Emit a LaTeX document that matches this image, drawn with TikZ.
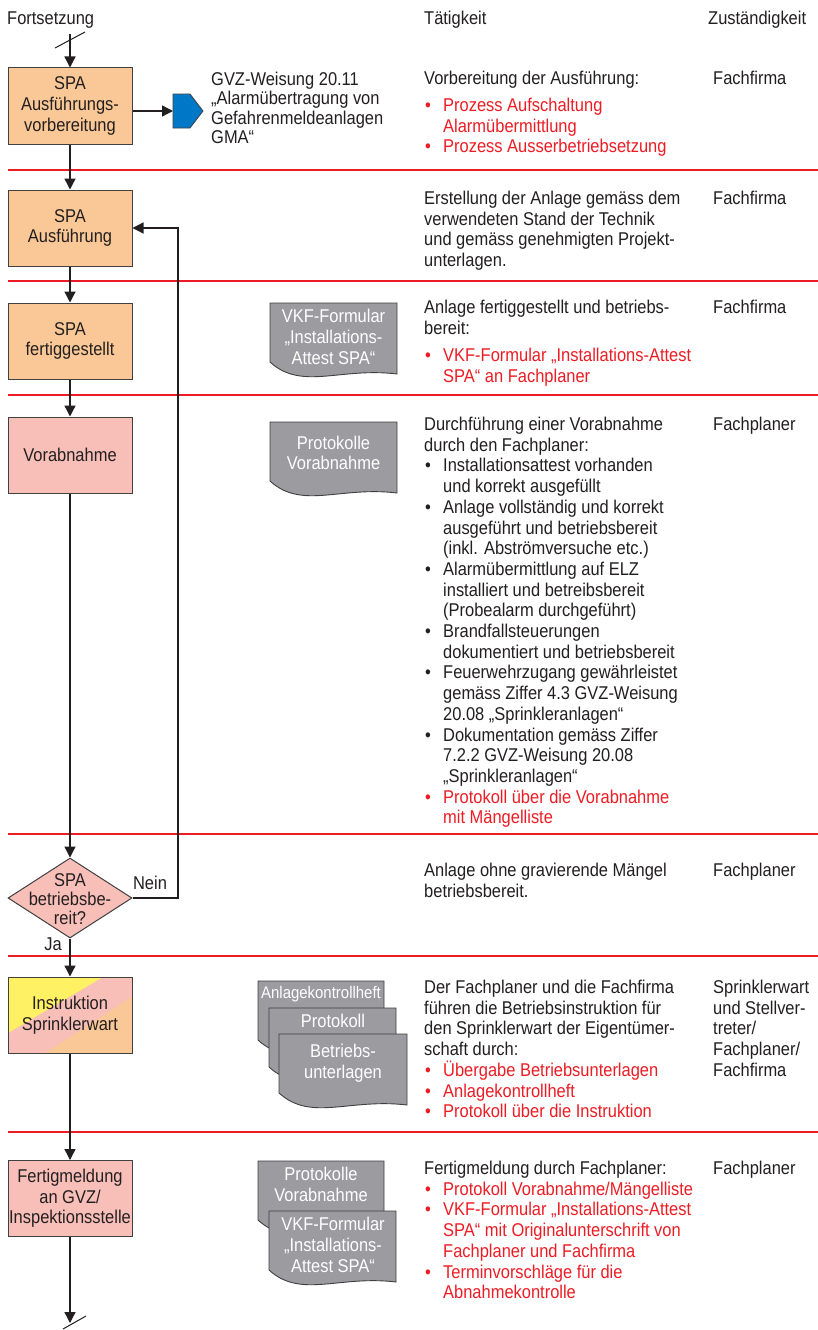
\documentclass[tikz,border=0pt]{standalone}
\usepackage{fontspec}
\setmainfont{Liberation Sans}[FakeStretch=0.89]
\usetikzlibrary{arrows.meta,shapes.geometric}
\definecolor{cred}{RGB}{237,28,36}
\definecolor{ctext}{RGB}{35,31,32}
\definecolor{corange}{RGB}{250,200,150}
\definecolor{cpink}{RGB}{248,191,185}
\definecolor{cyellow}{RGB}{255,240,100}
\definecolor{cblue}{RGB}{0,120,200}
\definecolor{cgray}{RGB}{155,155,160}
\definecolor{cborder}{RGB}{64,64,64}
\newcommand\blk[2][20.7pt]{\vtop{\baselineskip=#1\lineskiplimit=-100pt\lineskip=0pt\halign{##\hfil\cr#2\crcr}}}
\newcommand\bul[1]{\hbox to 19pt{\hskip1pt•\hfil}#1}
\newcommand\cont[1]{\hskip19pt #1}
\newcommand\docshape[3]{\filldraw[doc] (#1,#2) -- ++(#3,0) -- ++(0,71) .. controls +(-0.45*#3,-7) and +(0.25*#3,29) .. ++(-#3,-12) -- cycle;}
\tikzset{
  box/.style={draw=cborder, line width=1pt, minimum width=124pt, minimum height=76pt, inner sep=0pt, align=center, text=ctext},
  flow/.style={line width=1.3pt, draw=ctext, -{Triangle[length=11pt,width=11pt]}},
  plain/.style={line width=1pt, draw=ctext},
  sep/.style={draw=cred, line width=1.2pt},
  lbl/.style={anchor=base west, inner sep=0pt},
  doc/.style={fill=cgray, draw=cborder, line width=0.9pt},
  doctext/.style={text=white, align=center, inner sep=0pt}
}
\begin{document}
\begin{tikzpicture}[x=1pt,y=-1pt,font=\fontsize{18.5pt}{20.7pt}\selectfont,text=ctext]
\fill[white] (0,0) rectangle (818,1330);
\useasboundingbox (0,0) rectangle (818,1330);
% separators
\draw[sep] (8,170) -- (818,170);
\draw[sep] (8,281) -- (818,281);
\draw[sep] (8,395) -- (818,395);
\draw[sep] (8,834) -- (818,834);
\draw[sep] (8,956) -- (818,956);
\draw[sep] (8,1132) -- (818,1132);
% headers
\node[lbl] (fort) at (7,24.5) {Fortsetzung};
\node[lbl] (h1) at (424,24.5) {Tätigkeit};
\node[lbl] (h2) at (708,24.5) {Zuständigkeit};
% boxes
\node[box, fill=corange] (b1) at (70,106) {SPA\\Ausführungs-\\vorbereitung};
\node[box, fill=corange] (b2) at (70,228) {SPA\\Ausführung};
\node[box, fill=corange] (b3) at (70,341) {SPA\\fertiggestellt};
\node[box, fill=cpink] (b4) at (70,455) {Vorabnahme};
\node[diamond, draw=cborder, fill=cpink, line width=1pt, minimum width=124pt, minimum height=80pt, inner sep=0pt] (dia) at (70,898) {};
\node[align=center, inner sep=0pt, font=\fontsize{18.5pt}{19pt}\selectfont] (diat) at (70,899) {SPA\\betriebsbe-\\reit?};
\node[box, fill=cpink, path picture={
   \fill[cyellow] (path picture bounding box.north west) -- ++(95,0) -- ++(-95,56) -- cycle;
   \fill[corange] (path picture bounding box.south east) -- ++(0,-56) -- ++(-87,56) -- cycle;}] (b5) at (70,1015) {Instruktion\\Sprinklerwart};
\node[box, fill=cpink] (b6) at (70,1198.5) {Fertigmeldung\\an GVZ/\\Inspektionsstelle};
% GVZ reference
\filldraw[fill=cblue, draw=cborder, line width=0.8pt] (173,94) -- (190,94) -- (203,111) -- (190,128) -- (173,128) -- cycle;
\coordinate (gvz) at (173,111);
\node[lbl] (gvzt) at (211,85.5) {\blk[19.4pt]{GVZ-Weisung 20.11\cr „Alarmübertragung von\cr Gefahrenmeldeanlagen\cr GMA“}};
% connectors
\coordinate (top) at (70,34);
\draw[flow] (top) -- (b1.north);
\coordinate (s1a) at (55,48); \coordinate (s1b) at (85,32);
\draw[plain] (s1a) -- (s1b);
\draw[flow] (b1.east |- gvz) -- (gvz);
\draw[flow] (b1.south) -- (b2.north);
\draw[flow] (b2.south) -- (b3.north);
\draw[flow] (b3.south) -- (b4.north);
\draw[flow] (b4.south) -- (dia.north);
\coordinate (loop) at (178,898);
\draw[flow] (dia.east) -- (loop) |- (b2.east);
\node (nein) at (150,883) {Nein};
\draw[flow] (dia.south) -- (b5.north);
\node (ja) at (53,944) {Ja};
\draw[flow] (b5.south) -- (b6.north);
\coordinate (bot) at (70,1323);
\draw[flow] (b6.south) -- (bot);
\coordinate (s2a) at (63,1329); \coordinate (s2b) at (86,1316);
\draw[plain] (s2a) -- (s2b);
% documents
\docshape{270}{303}{127}
\node[doctext] (d1) at (333.5,337) {VKF-Formular\\„Installations-\\Attest SPA“};
\docshape{270}{422}{127}
\node[doctext] (d2) at (333.5,453) {Protokolle\\Vorabnahme};
\docshape{258}{981}{126}
\node[doctext, font=\fontsize{16.8pt}{20pt}\selectfont] (d3a) at (321,994) {Anlagekontrollheft};
\docshape{269}{1008}{127}
\node[doctext] (d3b) at (333,1021) {Protokoll};
\docshape{279}{1034}{128}
\node[doctext] (d3c) at (343,1063.5) {Betriebs-\\unterlagen};
\docshape{258}{1161}{126}
\node[doctext] (d4a) at (321,1184.5) {Protokolle\\Vorabnahme};
\docshape{269}{1211}{127}
\node[doctext] (d4b) at (333,1245) {VKF-Formular\\„Installations-\\Attest SPA“};
% activity texts
\node[lbl] (t1) at (424,84.5) {Vorbereitung der Ausführung:};
\node[lbl, text=cred] (t1b) at (424,111.5) {\blk{\bul{Prozess Aufschaltung}\cr\cont{Alarmübermittlung}\cr\bul{Prozess Ausserbetriebsetzung}}};
\node[lbl] (t2) at (424,204.5) {\blk{Erstellung der Anlage gemäss dem\cr verwendeten Stand der Technik\cr und gemäss genehmigten Projekt-\cr unterlagen.}};
\node[lbl] (t3) at (424,313.5) {\blk{Anlage fertiggestellt und betriebs-\cr bereit:}};
\node[lbl, text=cred] (t3b) at (424,361.5) {\blk{\bul{VKF-Formular „Installations-Attest}\cr\cont{SPA“ an Fachplaner}}};
\node[lbl] (t4) at (424,430.5) {\blk{Durchführung einer Vorabnahme\cr
durch den Fachplaner:\cr
\bul{Installationsattest vorhanden}\cr
\cont{und korrekt ausgefüllt}\cr
\bul{Anlage vollständig und korrekt}\cr
\cont{ausgeführt und betriebsbereit}\cr
\cont{(inkl. Abströmversuche etc.)}\cr
\bul{Alarmübermittlung auf ELZ}\cr
\cont{installiert und betreibsbereit}\cr
\cont{(Probealarm durchgeführt)}\cr
\bul{Brandfallsteuerungen}\cr
\cont{dokumentiert und betriebsbereit}\cr
\bul{Feuerwehrzugang gewährleistet}\cr
\cont{gemäss Ziffer 4.3 GVZ-Weisung}\cr
\cont{20.08 „Sprinkleranlagen“}\cr
\bul{Dokumentation gemäss Ziffer}\cr
\cont{7.2.2 GVZ-Weisung 20.08}\cr
\cont{„Sprinkleranlagen“}\cr
\textcolor{cred}{\bul{Protokoll über die Vorabnahme}}\cr
\textcolor{cred}{\cont{mit Mängelliste}}}};
\node[lbl] (t5) at (424,876.5) {\blk{Anlage ohne gravierende Mängel\cr betriebsbereit.}};
\node[lbl] (t6) at (424,993.5) {\blk{Der Fachplaner und die Fachfirma\cr
führen die Betriebsinstruktion für\cr
den Sprinklerwart der Eigentümer-\cr
schaft durch:\cr
\textcolor{cred}{\bul{Übergabe Betriebsunterlagen}}\cr
\textcolor{cred}{\bul{Anlagekontrollheft}}\cr
\textcolor{cred}{\bul{Protokoll über die Instruktion}}}};
\node[lbl] (t7) at (424,1174.5) {\blk{Fertigmeldung durch Fachplaner:\cr
\textcolor{cred}{\bul{Protokoll Vorabnahme/Mängelliste}}\cr
\textcolor{cred}{\bul{VKF-Formular „Installations-Attest}}\cr
\textcolor{cred}{\cont{SPA“ mit Originalunterschrift von}}\cr
\textcolor{cred}{\cont{Fachplaner und Fachfirma}}\cr
\textcolor{cred}{\bul{Terminvorschläge für die}}\cr
\textcolor{cred}{\cont{Abnahmekontrolle}}}};
% responsibility
\node[lbl] (z1) at (713,84.5) {Fachfirma};
\node[lbl] (z2) at (713,204.5) {Fachfirma};
\node[lbl] (z3) at (713,313.5) {Fachfirma};
\node[lbl] (z4) at (713,430.5) {Fachplaner};
\node[lbl] (z5) at (713,876.5) {Fachplaner};
\node[lbl] (z6) at (713,993.5) {\blk{Sprinklerwart\cr und Stellver-\cr treter/\cr Fachplaner/\cr Fachfirma}};
\node[lbl] (z7) at (713,1174.5) {Fachplaner};
\end{tikzpicture}
\end{document}
